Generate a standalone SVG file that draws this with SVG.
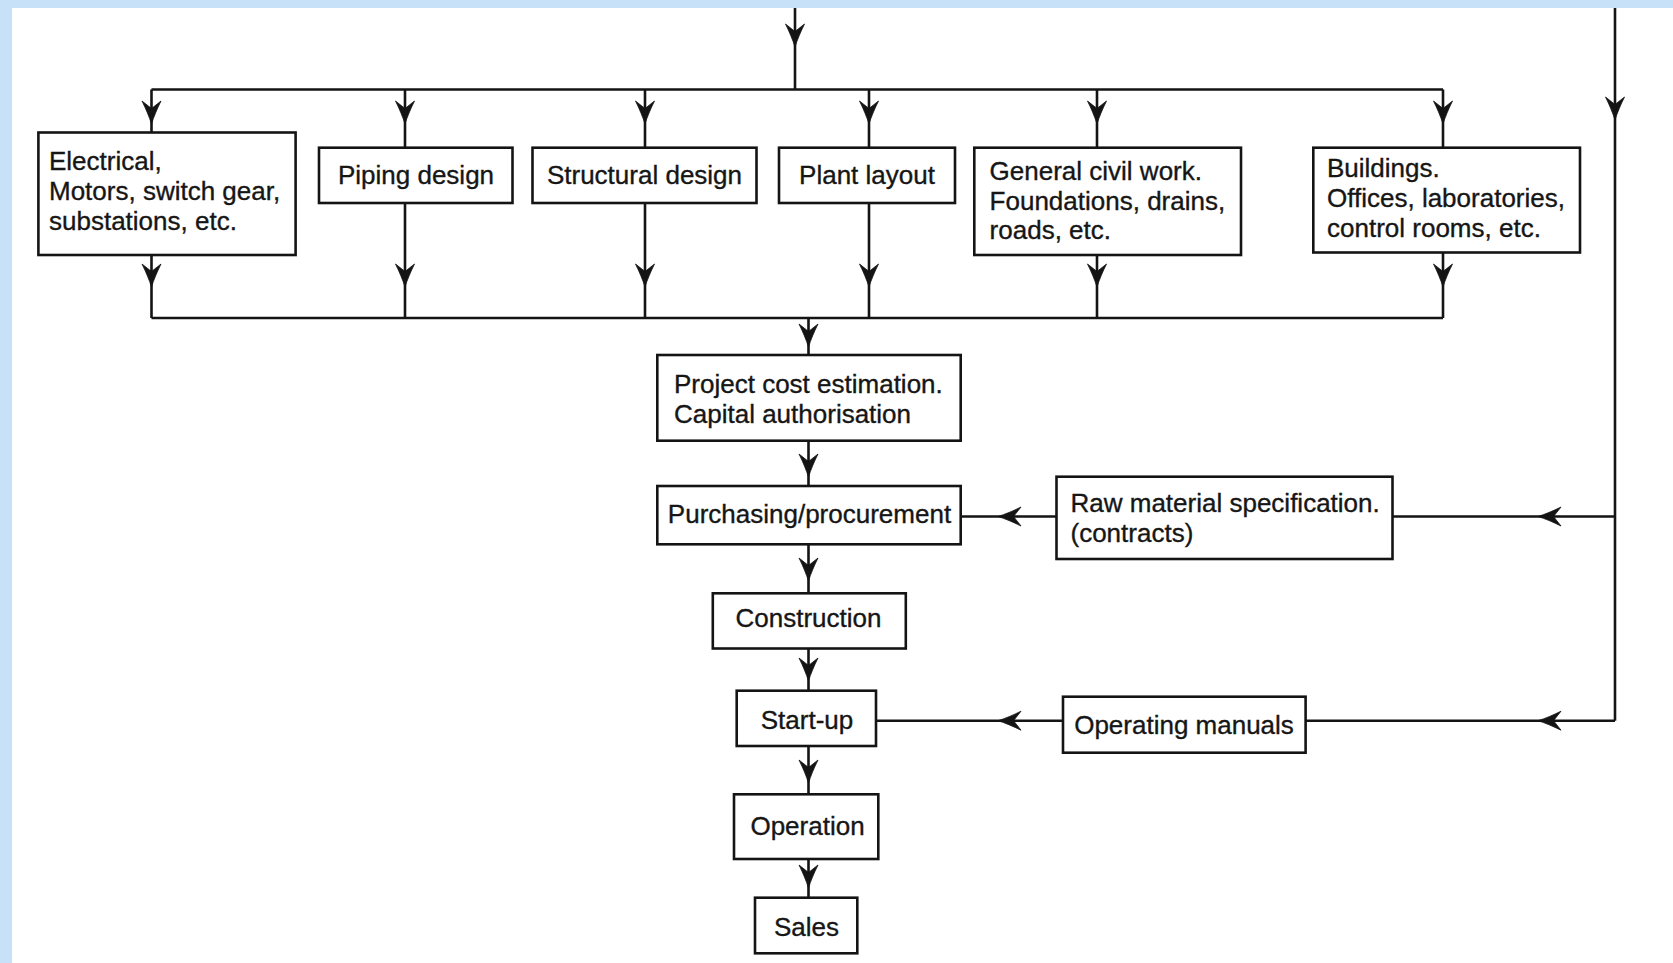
<svg xmlns="http://www.w3.org/2000/svg" xmlns:xlink="http://www.w3.org/1999/xlink" width="1673" height="963" viewBox="0 0 1673 963">
  <style>
    .box { fill: #ffffff; stroke: #141414; stroke-width: 2.6; }
    .wire { fill: none; stroke: #141414; stroke-width: 2.6; }
    .head { fill: #141414; stroke: #141414; stroke-width: 0.8; stroke-linejoin: round; }
    .lbl { font-family: "Liberation Sans", Arial, sans-serif; font-size: 26px; fill: #161616; stroke: #161616; stroke-width: 0.35; }
    .mid { text-anchor: middle; }
  </style>
  <defs>
    <!-- barbed arrowhead, tip at origin, pointing down (+y) -->
    <path id="ah" class="head" d="M0,0 C-2.2,-7 -5.5,-15 -9.5,-23 L0,-15.5 L9.5,-23 C5.5,-15 2.2,-7 0,0 Z"/>
  </defs>

  <!-- page frame -->
  <rect x="0" y="0" width="1673" height="963" fill="#c6e1f8"/>
  <rect x="12" y="8" width="1661" height="955" fill="#ffffff"/>

  <!-- connectors -->
  <g id="connectors">
    <path class="wire" d="M795,8 V89.5 M151.5,89.5 H1443"/>
    <path class="wire" d="M151.5,89.5 V132.5 M405,89.5 V147.7 M645,89.5 V147.7 M869,89.5 V147.7 M1097,89.5 V147.7 M1443,89.5 V147.7"/>
    <path class="wire" d="M151.5,255 V318 M405,203 V318 M645,203 V318 M869,203 V318 M1097,255 V318 M1443,252.5 V318 M151.5,318 H1443"/>
    <path class="wire" d="M808.5,318 V355 M808.5,440.7 V486 M808.5,544.3 V593.3 M808.5,648.5 V690.7 M808.5,746 V794.3 M808.5,859 V897.7"/>
    <path class="wire" d="M1615,8 V720.7 M960.7,516.5 H1056.5 M1392.5,516.5 H1615 M876,720.7 H1063 M1305.6,720.7 H1615"/>

    <use xlink:href="#ah" transform="translate(795,47)"/>
    <use xlink:href="#ah" transform="translate(1615,120)"/>
    <use xlink:href="#ah" transform="translate(151.5,124)"/>
    <use xlink:href="#ah" transform="translate(405,124)"/>
    <use xlink:href="#ah" transform="translate(645,124)"/>
    <use xlink:href="#ah" transform="translate(869,124)"/>
    <use xlink:href="#ah" transform="translate(1097,124)"/>
    <use xlink:href="#ah" transform="translate(1443,124)"/>
    <use xlink:href="#ah" transform="translate(151.5,287)"/>
    <use xlink:href="#ah" transform="translate(405,287)"/>
    <use xlink:href="#ah" transform="translate(645,287)"/>
    <use xlink:href="#ah" transform="translate(869,287)"/>
    <use xlink:href="#ah" transform="translate(1097,287)"/>
    <use xlink:href="#ah" transform="translate(1443,287)"/>
    <use xlink:href="#ah" transform="translate(808.5,347)"/>
    <use xlink:href="#ah" transform="translate(808.5,477)"/>
    <use xlink:href="#ah" transform="translate(808.5,581)"/>
    <use xlink:href="#ah" transform="translate(808.5,681)"/>
    <use xlink:href="#ah" transform="translate(808.5,783)"/>
    <use xlink:href="#ah" transform="translate(808.5,888)"/>
    <use xlink:href="#ah" transform="translate(998,516.5) rotate(90)"/>
    <use xlink:href="#ah" transform="translate(1538,516.5) rotate(90)"/>
    <use xlink:href="#ah" transform="translate(998,720.7) rotate(90)"/>
    <use xlink:href="#ah" transform="translate(1538,720.7) rotate(90)"/>
  </g>

  <g id="electrical">
    <rect class="box" x="38.4" y="132.5" width="257.2" height="122.5"/>
    <text class="lbl" x="49" y="170">Electrical,</text>
    <text class="lbl" x="49" y="200">Motors, switch gear,</text>
    <text class="lbl" x="49" y="230">substations, etc.</text>
  </g>
  <g id="piping">
    <rect class="box" x="319" y="147.7" width="193.5" height="55.3"/>
    <text class="lbl mid" x="416" y="184">Piping design</text>
  </g>
  <g id="structural">
    <rect class="box" x="532.5" y="147.7" width="224" height="55.3"/>
    <text class="lbl mid" x="644.5" y="184">Structural design</text>
  </g>
  <g id="plant-layout">
    <rect class="box" x="779" y="147.7" width="176" height="55.3"/>
    <text class="lbl mid" x="867" y="184">Plant layout</text>
  </g>
  <g id="civil">
    <rect class="box" x="974.3" y="147.7" width="266.7" height="107.3"/>
    <text class="lbl" x="989.6" y="180">General civil work.</text>
    <text class="lbl" x="989.6" y="210">Foundations, drains,</text>
    <text class="lbl" x="989.6" y="239">roads, etc.</text>
  </g>
  <g id="buildings">
    <rect class="box" x="1313.3" y="147.7" width="266.7" height="104.8"/>
    <text class="lbl" x="1327" y="177">Buildings.</text>
    <text class="lbl" x="1327" y="207">Offices, laboratories,</text>
    <text class="lbl" x="1327" y="237">control rooms, etc.</text>
  </g>
  <g id="cost-estimation">
    <rect class="box" x="657.3" y="355" width="303.4" height="85.7"/>
    <text class="lbl" x="674" y="393">Project cost estimation.</text>
    <text class="lbl" x="674" y="423">Capital authorisation</text>
  </g>
  <g id="purchasing">
    <rect class="box" x="657.3" y="486" width="303.4" height="58.3"/>
    <text class="lbl mid" x="809.5" y="523">Purchasing/procurement</text>
  </g>
  <g id="raw-material">
    <rect class="box" x="1056.5" y="476.7" width="336" height="82.3"/>
    <text class="lbl" x="1070.5" y="511.5">Raw material specification.</text>
    <text class="lbl" x="1070.5" y="541.5">(contracts)</text>
  </g>
  <g id="construction">
    <rect class="box" x="712.8" y="593.3" width="193" height="55.2"/>
    <text class="lbl mid" x="808.5" y="627">Construction</text>
  </g>
  <g id="start-up">
    <rect class="box" x="736.7" y="690.7" width="139.3" height="55.3"/>
    <text class="lbl mid" x="807" y="729">Start-up</text>
  </g>
  <g id="operating-manuals">
    <rect class="box" x="1063" y="696.7" width="242.6" height="56"/>
    <text class="lbl mid" x="1184" y="733.5">Operating manuals</text>
  </g>
  <g id="operation">
    <rect class="box" x="734" y="794.3" width="144.3" height="64.7"/>
    <text class="lbl mid" x="807.5" y="834.5">Operation</text>
  </g>
  <g id="sales">
    <rect class="box" x="755" y="897.7" width="102.3" height="55.6"/>
    <text class="lbl mid" x="806.5" y="936">Sales</text>
  </g>
</svg>
